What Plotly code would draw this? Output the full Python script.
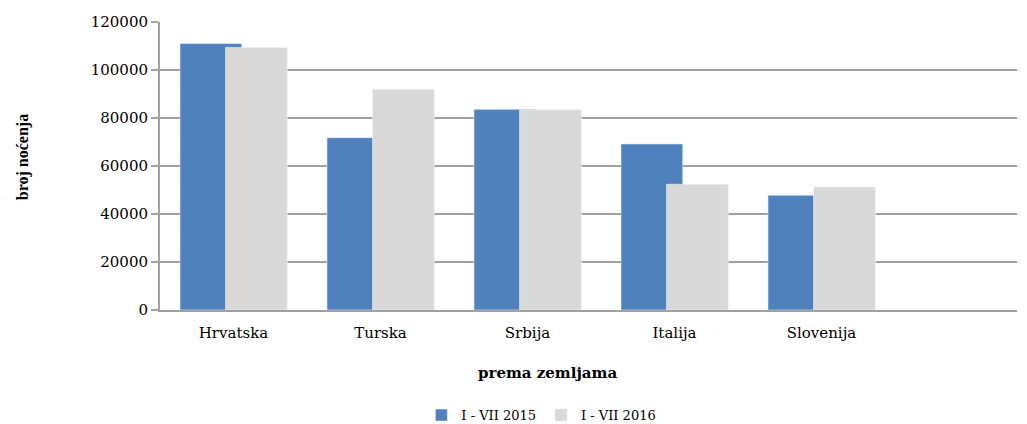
import plotly.graph_objects as go

categories = ["Hrvatska", "Turska", "Srbija", "Italija", "Slovenija"]
series_2015 = [111000, 71800, 83600, 69200, 47800]
series_2016 = [109400, 92000, 83400, 52400, 51200]
series_names = ["I - VII 2015", "I - VII 2016"]
y_ticks = [0, 20000, 40000, 60000, 80000, 100000, 120000]

x_pos = list(range(len(categories)))

fig = go.Figure()
fig.add_trace(go.Bar(
    x=x_pos, y=series_2015, name=series_names[0],
    marker=dict(color="#4f81bd", line=dict(width=0.6, color="#e8eef6")),
    width=0.42, offset=-0.364,
))
fig.add_trace(go.Bar(
    x=x_pos, y=series_2016, name=series_names[1],
    marker=dict(color="#d9d9d9", line=dict(width=0.6, color="#f0f0f0")),
    width=0.42, offset=-0.054,
))

font_tick = dict(family="DejaVu Serif", size=15, color="#000000")

# page body has an 8px margin, so the figure is drawn 8px in from the top-left
fig.update_layout(
    template="none",
    barmode="overlay",
    width=1019, height=416,
    margin=dict(l=152, r=10, t=14, b=114, autoexpand=False),
    paper_bgcolor="white", plot_bgcolor="white",
    showlegend=True,
    legend=dict(
        orientation="h", x=0.445, xanchor="center", y=-0.365, yanchor="middle",
        font=dict(family="DejaVu Serif", size=13, color="#000000"),
        traceorder="normal", bgcolor="rgba(0,0,0,0)", itemwidth=30,
    ),
    xaxis=dict(
        range=[-0.5, 5.33], automargin=False,
        tickvals=x_pos, ticktext=categories,
        tickfont=font_tick,
        showgrid=False, zeroline=False,
        showline=True, linecolor="#a0a0a0", linewidth=2,
        ticks="", ticklabelstandoff=8,
    ),
    yaxis=dict(
        range=[0, 120000], automargin=False,
        tickvals=y_ticks, ticktext=[str(v) for v in y_ticks],
        tickfont=font_tick,
        showgrid=True, gridcolor="#a0a0a0", gridwidth=2,
        zeroline=False,
        showline=True, linecolor="#a0a0a0", linewidth=2,
        ticks="outside", ticklen=7, tickcolor="#a0a0a0", tickwidth=2,
    ),
    annotations=[
        dict(text="<b>prema zemljama</b>", xref="paper", yref="paper",
             x=0.452, y=-0.22, xanchor="center", yanchor="middle", showarrow=False,
             font=dict(family="DejaVu Serif", size=15, color="#000000")),
        dict(text="<b>broj noćenja</b>", xref="paper", yref="paper",
             x=-0.16, y=0.53, xanchor="center", yanchor="middle", showarrow=False,
             textangle=-90,
             font=dict(family="Liberation Serif", size=16, color="#000000")),
    ],
)

fig.write_html("out.html")
